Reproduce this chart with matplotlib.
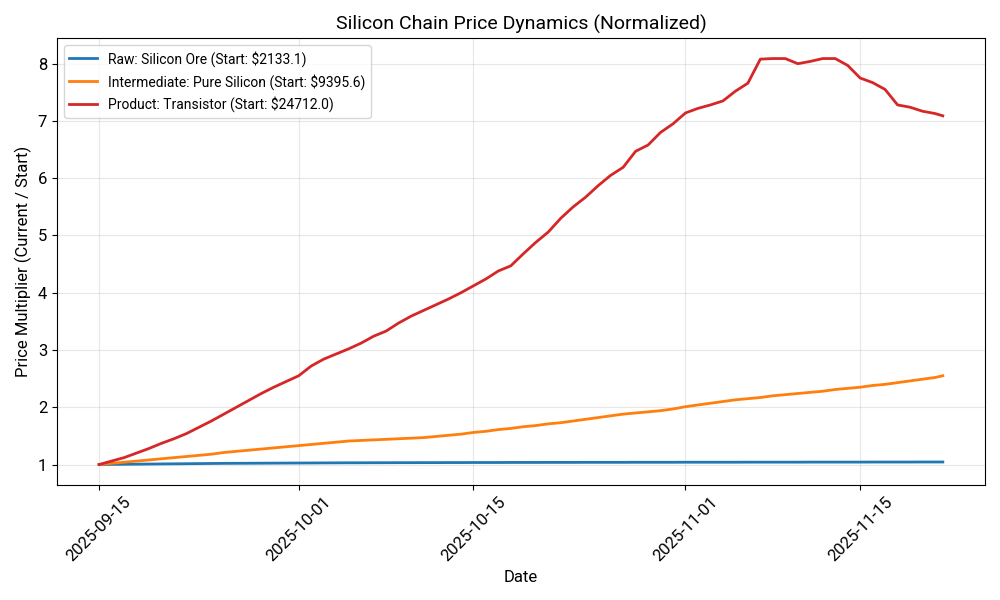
import numpy as np
import pandas as pd
import matplotlib
matplotlib.use('Agg')
import matplotlib.pyplot as plt

plt.rcParams['font.family'] = ['Roboto', 'DejaVu Sans']

# daily readings, Sep 15 .. Nov 21, plus last sample in the afternoon of Nov 21
dates = list(pd.date_range('2025-09-15', '2025-11-21', freq='D')) + [pd.Timestamp('2025-11-21 15:00')]

raw_ore = [1.000, 1.002, 1.004, 1.006, 1.008, 1.010, 1.012, 1.014, 1.016, 1.018,
           1.020, 1.021, 1.022, 1.023, 1.024, 1.025, 1.026, 1.027, 1.028, 1.029,
           1.030, 1.030, 1.031, 1.031, 1.032, 1.032, 1.033, 1.033, 1.034, 1.034,
           1.035, 1.035, 1.035, 1.036, 1.036, 1.036, 1.037, 1.037, 1.037, 1.038,
           1.038, 1.038, 1.038, 1.039, 1.039, 1.039, 1.039, 1.040, 1.040, 1.040,
           1.040, 1.040, 1.041, 1.041, 1.041, 1.041, 1.041, 1.042, 1.042, 1.042,
           1.042, 1.042, 1.043, 1.043, 1.043, 1.043, 1.044, 1.044, 1.044]

pure_silicon = [1.00, 1.02, 1.04, 1.06, 1.08, 1.10, 1.12, 1.14, 1.16, 1.18,
                1.21, 1.23, 1.25, 1.27, 1.29, 1.31, 1.33, 1.35, 1.37, 1.39,
                1.41, 1.42, 1.43, 1.44, 1.45, 1.46, 1.47, 1.49, 1.51, 1.53,
                1.56, 1.58, 1.61, 1.63, 1.66, 1.68, 1.71, 1.73, 1.76, 1.79,
                1.82, 1.85, 1.88, 1.90, 1.92, 1.94, 1.97, 2.01, 2.04, 2.07,
                2.10, 2.13, 2.15, 2.17, 2.20, 2.22, 2.24, 2.26, 2.28, 2.31,
                2.33, 2.35, 2.38, 2.40, 2.43, 2.46, 2.49, 2.52, 2.55]

transistor = [1.00, 1.06, 1.12, 1.20, 1.28, 1.37, 1.45, 1.54, 1.65, 1.76,
              1.88, 2.00, 2.12, 2.24, 2.35, 2.45, 2.55, 2.72, 2.84, 2.93,
              3.02, 3.12, 3.24, 3.33, 3.47, 3.59, 3.69, 3.79, 3.89, 4.00,
              4.12, 4.24, 4.38, 4.47, 4.68, 4.88, 5.06, 5.30, 5.50, 5.67,
              5.87, 6.05, 6.19, 6.47, 6.58, 6.80, 6.95, 7.14, 7.22, 7.28,
              7.35, 7.52, 7.66, 8.08, 8.09, 8.09, 8.00, 8.04, 8.09, 8.09,
              7.97, 7.75, 7.67, 7.55, 7.28, 7.24, 7.17, 7.13, 7.09]

labels = ['Raw: Silicon Ore (Start: $2133.1)',
          'Intermediate: Pure Silicon (Start: $9395.6)',
          'Product: Transistor (Start: $24712.0)']
colors = ['#1f77b4', '#ff7f0e', '#d62728']

fig, ax = plt.subplots(figsize=(10, 6), dpi=100)
for series, lab, col in zip([raw_ore, pure_silicon, transistor], labels, colors):
    ax.plot(dates, series, label=lab, color=col, linewidth=2)

ax.set_title('Silicon Chain Price Dynamics (Normalized)', fontsize=14)
ax.set_xlabel('Date', fontsize=12)
ax.set_ylabel('Price Multiplier (Current / Start)', fontsize=12)
ax.set_xticks(pd.to_datetime(['2025-09-15', '2025-10-01', '2025-10-15', '2025-11-01', '2025-11-15']))
ax.xaxis.set_major_formatter(matplotlib.dates.DateFormatter('%Y-%m-%d'))
plt.xticks(rotation=45, fontsize=12)
plt.yticks(fontsize=12)
ax.grid(True, alpha=0.3)
ax.legend(loc='upper left', fontsize=10)
plt.tight_layout()
plt.savefig('out.png')
